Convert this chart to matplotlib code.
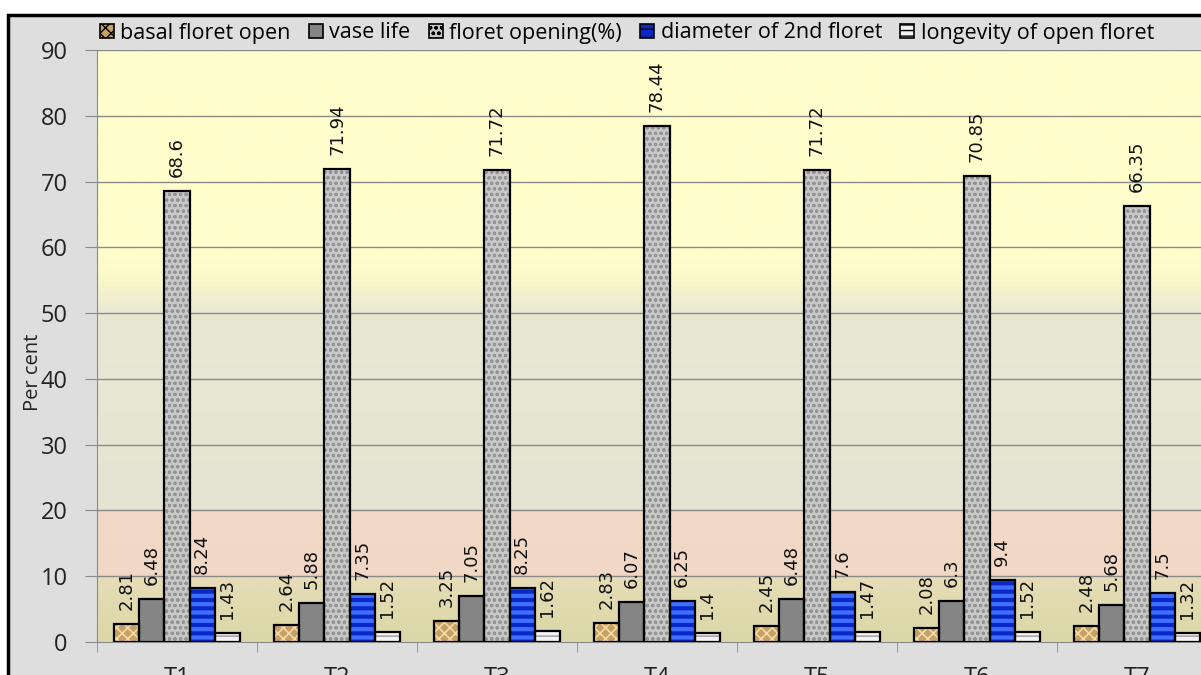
import matplotlib
matplotlib.use("Agg")
import matplotlib.pyplot as plt
import numpy as np
from matplotlib.patches import Rectangle, Patch
from matplotlib.colors import LinearSegmentedColormap

categories = ["T1", "T2", "T3", "T4", "T5", "T6", "T7"]
series_names = ["basal floret open", "vase life", "floret opening(%)",
                "diameter of 2nd floret", "longevity of open floret"]
basal_floret_open = [2.81, 2.64, 3.25, 2.83, 2.45, 2.08, 2.48]
vase_life = [6.48, 5.88, 7.05, 6.07, 6.48, 6.3, 5.68]
floret_opening = [68.6, 71.94, 71.72, 78.44, 71.72, 70.85, 66.35]
diameter_2nd_floret = [8.24, 7.35, 8.25, 6.25, 7.6, 9.4, 7.5]
longevity_open_floret = [1.43, 1.52, 1.62, 1.4, 1.47, 1.52, 1.32]
yticks = [0, 10, 20, 30, 40, 50, 60, 70, 80, 90]

series = [basal_floret_open, vase_life, floret_opening,
          diameter_2nd_floret, longevity_open_floret]
# (facecolor, hatch, hatchcolor, hatch linewidth)
styles = [
    ("#c9a064", "xxx", "#f0dca8", 1.2),
    ("#858585", "", None, 1.0),
    ("#c8c8c8", "ooo", "#939393", 0.8),
    ("#0a28c8", "--", "#3f70ff", 3.0),
    ("#f4f4f4", "---", "#9a9a9a", 1.0),
]

W, H = 1201, 675
fig = plt.figure(figsize=(W / 100, H / 100), dpi=100)
fig.patch.set_facecolor("white")

# outer chart area (grey with black border), cropped in the reference
fig.patches.append(Rectangle((8 / W, -0.2), 1.2, 1 - 15 / H + 0.2,
                             transform=fig.transFigure, facecolor="#dedede",
                             edgecolor="black", linewidth=2.5, zorder=-10))

ax = fig.add_axes([97 / W, 33 / H, 1120 / W, 592 / H])
ax.set_zorder(1)
ax.set_xlim(-0.5, len(categories) - 0.5)
ax.set_ylim(0, 90)

# background gradient of plot area
stops = [(0.0, "#dbd7a6"), (8 / 90, "#e4dcb4"), (9.99 / 90, "#e8dcb8"),
         (10.01 / 90, "#f1d7c6"), (19.99 / 90, "#f2d9c8"),
         (20.01 / 90, "#e5e4d2"), (50 / 90, "#e9e8d4"),
         (56 / 90, "#fbfac8"), (60 / 90, "#fffecc"), (1.0, "#ffffcc")]
cmap = LinearSegmentedColormap.from_list("bg", stops)
grad = np.linspace(0, 1, 900).reshape(-1, 1)
ax.imshow(grad, aspect="auto", cmap=cmap, origin="lower",
          extent=[-0.5, len(categories) - 0.5, 0, 90], zorder=0)

for y in yticks[1:]:
    ax.axhline(y, color="#8a8a8a", lw=1.0, zorder=1)

x = np.arange(len(categories))
bw = 0.157
for k, (vals, (fc, hatch, hc, hlw)) in enumerate(zip(series, styles)):
    pos = x + (k - 2) * bw
    if hatch:
        bars = ax.bar(pos, vals, bw, color=fc, hatch=hatch, edgecolor=hc,
                      linewidth=0, zorder=2)
        for b in bars:
            if hasattr(b, "set_hatch_linewidth"):
                b.set_hatch_linewidth(hlw)
    else:
        bars = ax.bar(pos, vals, bw, color=fc, linewidth=0, zorder=2)
    ax.bar(pos, vals, bw, facecolor="none", edgecolor="black",
           linewidth=1.6, zorder=3)
    ax.bar_label(bars, labels=["%g" % v for v in vals], rotation=90,
                 padding=10, fontsize=13, family="DejaVu Sans",
                 color="#111111", zorder=4)

# axes styling
for s in ["top", "right"]:
    ax.spines[s].set_visible(False)
ax.spines["left"].set_color("#8a8a8a")
ax.spines["bottom"].set_color("#8a8a8a")
ax.set_yticks(yticks)
ax.set_yticklabels([str(t) for t in yticks], fontsize=17, family="Open Sans",
                   color="#222222")
ax.tick_params(axis="y", length=9, color="#8a8a8a", pad=12)
ax.set_xticks(x)
ax.set_xticklabels(categories, fontsize=17, family="Open Sans",
                   color="#222222")
ax.tick_params(axis="x", length=0, pad=17)
ax.set_xticks(np.arange(-0.5, len(categories), 1.0), minor=True)
ax.tick_params(axis="x", which="minor", length=7, color="#8a8a8a")

fig.text(33 / W, 1 - 372 / H, "Per cent", rotation=90, fontsize=14.5,
         family="Open Sans", ha="center", va="center", color="#222222",
         zorder=5)

handles = []
for fc, hatch, hc, hlw in styles:
    p = Patch(facecolor=fc, hatch=hatch if hatch else None,
              edgecolor="black", linewidth=1.2)
    handles.append(p)
fig.legend(handles, series_names, loc="center", ncol=5,
           bbox_to_anchor=(627 / W, 1 - 33 / H), frameon=False,
           prop={"family": "Open Sans", "size": 15.5},
           handlelength=0.65, handleheight=0.65, handletextpad=0.3,
           columnspacing=0.85, borderaxespad=0)

fig.savefig("out.png", dpi=100)
